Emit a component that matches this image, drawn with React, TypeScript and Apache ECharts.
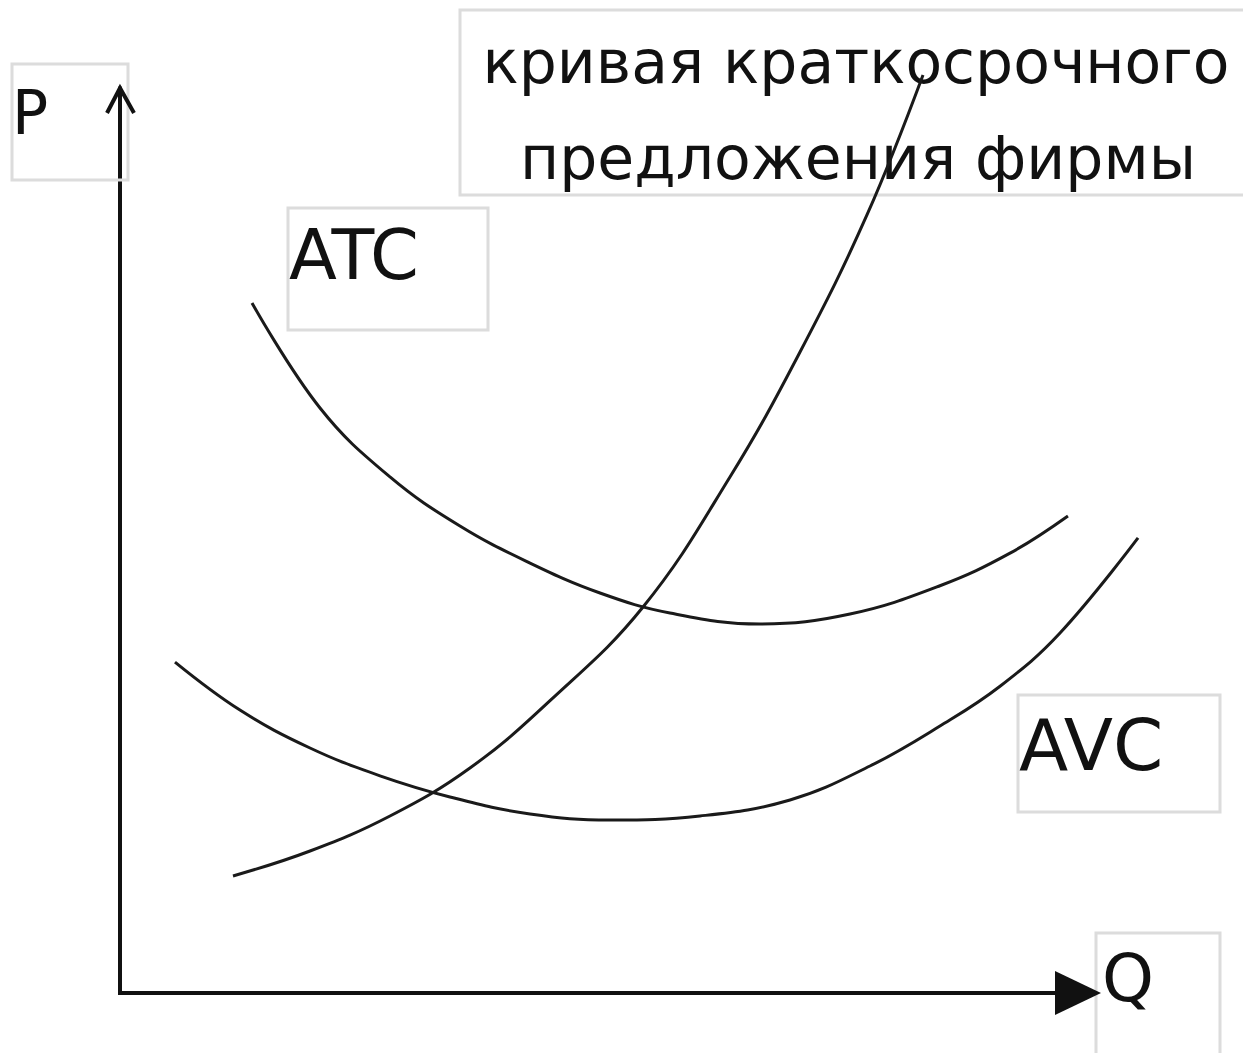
import React, { useEffect, useRef } from "react";
import * as echarts from "echarts";

// Average total cost curve [Q, P]
const atcData: number[][] = [
  [13.47, 76.24], [20.41, 64.64], [27.55, 57.02], [34.69, 51.6], [41.84, 47.51],
  [48.98, 44.2], [56.12, 41.99], [65.31, 40.77], [74.49, 41.88], [83.67, 45.0],
  [90.82, 48.6], [96.73, 52.71],
];
// Average variable cost curve [Q, P]
const avcData: number[][] = [
  [5.61, 36.57], [12.24, 31.27], [19.39, 27.07], [26.53, 24.0], [33.67, 21.66],
  [41.84, 19.78], [50.0, 19.12], [59.18, 19.56], [68.37, 21.33], [76.53, 25.08],
  [83.67, 29.5], [89.8, 33.9], [95.92, 39.78], [103.88, 50.28],
];
// Short-run supply (MC) curve [Q, P]
const mcData: number[][] = [
  [11.53, 12.93], [19.39, 15.69], [27.55, 19.56], [35.71, 24.86], [43.88, 32.3],
  [53.37, 42.65], [62.24, 57.02], [69.39, 70.83], [76.22, 85.97], [81.94, 101.44],
];

const titleLines = ["кривая краткосрочного", "предложения фирмы"];
const labelATC = "ATC";
const labelAVC = "AVC";
const labelP = "P";
const labelQ = "Q";

const FONT = "'DejaVu Sans', Verdana, sans-serif";
const BOX = { fill: "rgba(255,255,255,0)", stroke: "#dcdcdc", lineWidth: 3 };
const INK = "#111";

export default function App() {
  const ref = useRef<HTMLDivElement>(null);
  useEffect(() => {
    if (!ref.current) return;
    const chart = echarts.init(ref.current, null, { renderer: "svg" });
    const curve = (name: string, data: number[][]) => ({
      name,
      type: "line",
      data,
      smooth: 0.4,
      showSymbol: false,
      clip: false,
      z: 5,
      lineStyle: { color: "#1a1a1a", width: 3 },
    });
    chart.setOption({
      animation: false,
      backgroundColor: "#fff",
      grid: { left: 120, right: 45, top: 88, bottom: 60 },
      xAxis: {
        type: "value",
        min: 0,
        max: 110,
        axisLine: { show: false },
        axisTick: { show: false },
        axisLabel: { show: false },
        splitLine: { show: false },
      },
      yAxis: {
        type: "value",
        min: 0,
        max: 100,
        axisLine: { show: true, lineStyle: { color: INK, width: 4 } },
        axisTick: { show: false },
        axisLabel: { show: false },
        splitLine: { show: false },
      },
      series: [curve("ATC", atcData), curve("AVC", avcData), curve("MC", mcData)],
      graphic: [
        // label boxes
        { type: "rect", z: 1, shape: { x: 12, y: 64, width: 116, height: 116 }, style: BOX },
        { type: "rect", z: 1, shape: { x: 460, y: 10, width: 790, height: 185 }, style: BOX },
        { type: "rect", z: 1, shape: { x: 288, y: 208, width: 200, height: 122 }, style: BOX },
        { type: "rect", z: 1, shape: { x: 1018, y: 695, width: 202, height: 117 }, style: BOX },
        { type: "rect", z: 1, shape: { x: 1096, y: 933, width: 124, height: 130 }, style: BOX },
        // Q axis line and arrows
        {
          type: "line", z: 6,
          shape: { x1: 118, y1: 993, x2: 1060, y2: 993 },
          style: { stroke: INK, lineWidth: 4 },
        },
        {
          type: "polygon", z: 6,
          shape: { points: [[1055, 971], [1101, 993], [1055, 1015]] },
          style: { fill: INK },
        },
        {
          type: "polyline", z: 6,
          shape: { points: [[107, 113], [120, 88], [134, 113]] },
          style: { stroke: INK, lineWidth: 4, fill: "none" },
        },
        // texts
        {
          type: "text", z: 2, x: 856, y: 62,
          style: { text: titleLines[0], font: `60px ${FONT}`, fill: INK, align: "center", verticalAlign: "middle" },
        },
        {
          type: "text", z: 2, x: 858, y: 158,
          style: { text: titleLines[1], font: `60px ${FONT}`, fill: INK, align: "center", verticalAlign: "middle" },
        },
        {
          type: "text", z: 2, x: 289, y: 255,
          style: { text: labelATC, font: `70px ${FONT}`, fill: INK, align: "left", verticalAlign: "middle" },
        },
        {
          type: "text", z: 2, x: 1019, y: 745,
          style: { text: labelAVC, font: `72px ${FONT}`, fill: INK, align: "left", verticalAlign: "middle" },
        },
        {
          type: "text", z: 2, x: 12, y: 113,
          style: { text: labelP, font: `60px ${FONT}`, fill: INK, align: "left", verticalAlign: "middle" },
        },
        {
          type: "text", z: 2, x: 1102, y: 978,
          style: { text: labelQ, font: `66px ${FONT}`, fill: INK, align: "left", verticalAlign: "middle" },
        },
      ],
    });
    return () => chart.dispose();
  }, []);
  return (
    <div
      ref={ref}
      style={{ position: "absolute", left: 0, top: 0, width: 1243, height: 1053 }}
    />
  );
}
